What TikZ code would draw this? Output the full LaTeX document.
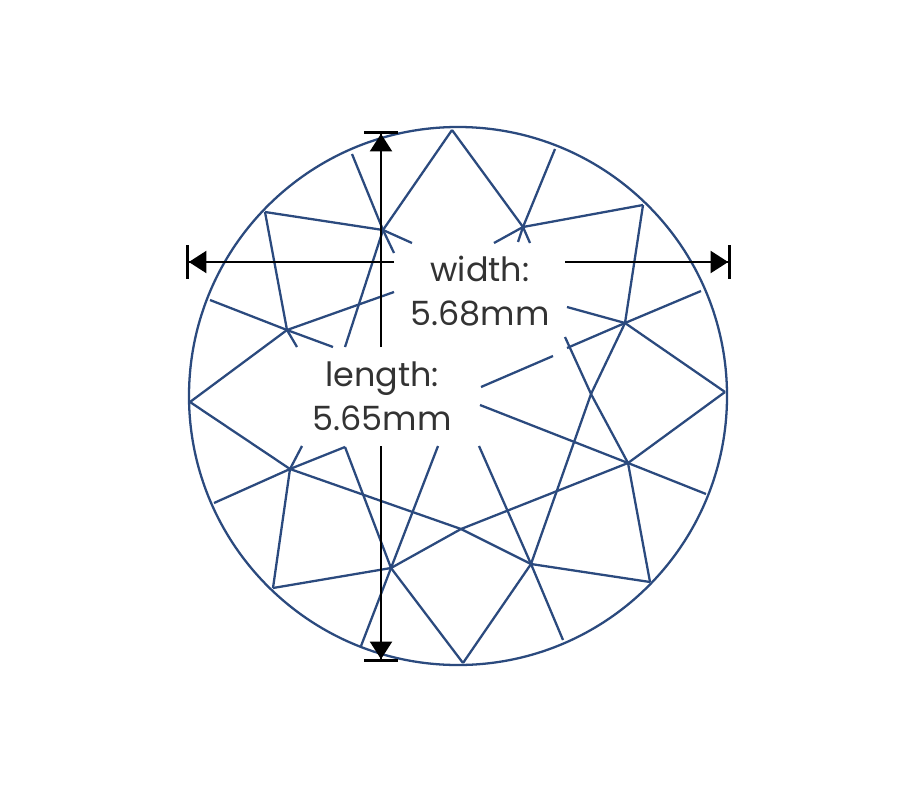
\documentclass[tikz,border=0pt]{standalone}
\usepackage{fontspec}
\setmainfont{Poppins}
\usetikzlibrary{arrows.meta}
\definecolor{facetblue}{HTML}{2B4A7E}
\tikzset{
    facet/.style={draw=facetblue, line width=0.65pt},
    dimline/.style={draw=black, line width=0.8pt, -{Triangle[length=5pt,width=6.2pt]Bar[width=9.4pt,line width=0.8pt]}},
    dimlabel/.style={align=center, inner sep=0pt, text=black!80, font=\fontsize{9.5}{12.5}\selectfont}
}
\begin{document}
\begin{tikzpicture}[x=0.01cm, y=-0.01cm]
    \useasboundingbox (0,0) rectangle (916,794);

    % 輪郭
    \draw[facet] (458,396) circle [radius=269];

    % 上側
    \coordinate (top) at (452,130);
    \coordinate (a) at (383,230);
    \coordinate (b) at (265,212);
    \coordinate (c) at (287,330);
    \coordinate (left) at (190,402);
    \coordinate (d) at (523,227);
    \coordinate (e) at (643,205);
    \coordinate (f) at (625,323);
    \coordinate (right) at (725,392);
    \coordinate (g) at (591,394);

    % 下側
    \coordinate (h) at (628,463);
    \coordinate (j) at (531,564);
    \coordinate (k) at (391,568);
    \coordinate (m) at (290,469);
    \coordinate (n) at (461,529);
    \coordinate (p) at (273,588);
    \coordinate (q) at (650,582);
    \coordinate (bottom) at (463,663);
    \coordinate (r) at (345,447);

    % 切れた線の端
    \coordinate (a1) at (352,154);
    \coordinate (a2) at (394,253);
    \coordinate (a3) at (412,243);
    \coordinate (a4) at (345,347);
    \coordinate (c1) at (297,347);
    \coordinate (c2) at (210,300);
    \coordinate (c3) at (333,347);
    \coordinate (c4) at (394,292);
    \coordinate (d1) at (555,149);
    \coordinate (d2) at (518,242);
    \coordinate (d3) at (494,243);
    \coordinate (d4) at (530,243);
    \coordinate (f1) at (701,291);
    \coordinate (f2) at (567,348);
    \coordinate (f3) at (553,356);
    \coordinate (f4) at (481,387);
    \coordinate (f5) at (567,307);
    \coordinate (g1) at (565,337);
    \coordinate (h1) at (480,405);
    \coordinate (h2) at (706,494);
    \coordinate (j1) at (479,446);
    \coordinate (j2) at (563,640);
    \coordinate (k1) at (438,446);
    \coordinate (k2) at (361,646);
    \coordinate (m1) at (214,503);
    \coordinate (m2) at (302,446);

    % 面の線
    \foreach \s/\t in {top/a, a/a4, a1/a, a/a2, b/a, a/a3, b/c, c/c1, c2/c, c/c3, left/c, c/c4,
        top/d, d/d4, d1/d, d/d2, e/d, d/d3, e/f, f1/f, f/f2, f3/f4, right/f, f/f5,
        f/g, g/j, g1/g, g/h, right/h, h1/h, h/h2, j1/j, h/q, j/q, j/j2, j/bottom,
        h/n, n/k, left/m, m/n, n/j, m1/m, m/r, r/k, k/bottom, m/m2, m/p, p/k, k1/k, k/k2}
        \draw[facet] (\s) -- (\t);

    % ラベル
    \node[dimlabel] (widthlabel) at (480,291) {width:\\5.68mm};
    \node[dimlabel] (lengthlabel) at (382,396) {length:\\5.65mm};

    % 寸法線
    \coordinate (topend) at (381,131);
    \coordinate (topstart) at (381,347);
    \coordinate (bottomstart) at (381,446);
    \coordinate (bottomend) at (381,662);
    \coordinate (leftstart) at (394,262);
    \coordinate (leftend) at (186,262);
    \coordinate (rightstart) at (565,262);
    \coordinate (rightend) at (731,262);
    \draw[dimline] (topstart) -- (topend);
    \draw[dimline] (bottomstart) -- (bottomend);
    \draw[dimline] (leftstart) -- (leftend);
    \draw[dimline] (rightstart) -- (rightend);
\end{tikzpicture}
\end{document}
